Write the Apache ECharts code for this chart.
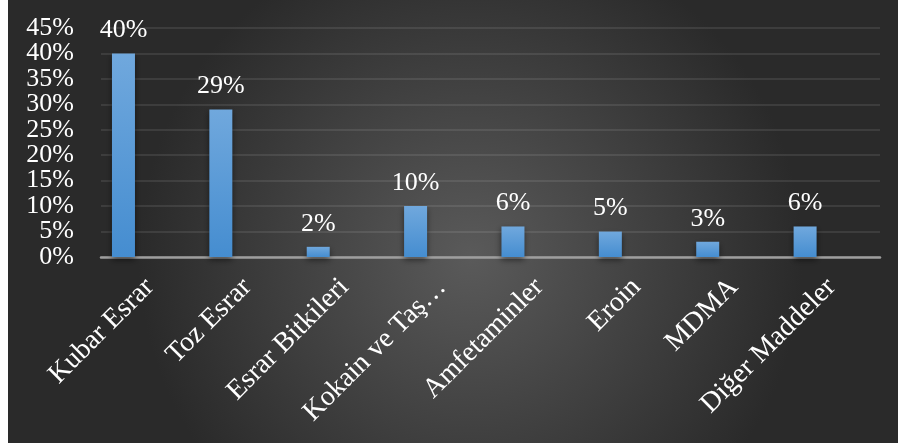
<!DOCTYPE html>
<html>
<head>
<meta charset="utf-8">
<script src="https://cdn.jsdelivr.net/npm/echarts@6/dist/echarts.min.js"></script>
<style>
html,body{margin:0;padding:0;background:#ffffff;}
#chart{position:absolute;left:8px;top:0;width:890px;height:443px;}
</style>
</head>
<body>
<div id="chart"></div>
<script>
var categories = ['Kubar Esrar','Toz Esrar','Esrar Bitkileri','Kokain ve Taş…','Amfetaminler','Eroin','MDMA','Diğer Maddeler'];
var values = [40, 29, 2, 10, 6, 5, 3, 6];
var yTicks = [0, 5, 10, 15, 20, 25, 30, 35, 40, 45];

var chart = echarts.init(document.getElementById('chart'));
var font = '"Liberation Serif","Times New Roman",serif';
var yMin = yTicks[0], yMax = yTicks[yTicks.length - 1], yStep = yTicks[1] - yTicks[0];
var gridTop = 28, gridBottom = 186, chartH = 443;
var plotH = chartH - gridTop - gridBottom;
// second grid starts at the first odd tick so its labels sit on the same scale
var grid2Bottom = gridBottom + plotH * (yTicks[1] - yMin) / (yMax - yMin);

var labelStyle = {color: '#ffffff', fontFamily: font, fontSize: 26, margin: 27, formatter: '{value}%'};

chart.setOption({
  animation: false,
  backgroundColor: {
    type: 'radial', x: 0.52, y: 0.58, r: 0.75,
    colorStops: [{offset: 0, color: '#5a5a5a'}, {offset: 1, color: '#2a2a2a'}]
  },
  grid: [
    {left: 93, right: 18, top: gridTop, bottom: gridBottom},
    {left: 93, right: 18, top: gridTop, bottom: grid2Bottom}
  ],
  xAxis: [{
    type: 'category',
    gridIndex: 0,
    data: categories,
    axisLine: {lineStyle: {color: '#9e9e9e', width: 2.5}},
    axisTick: {show: false},
    axisLabel: {
      rotate: 45, interval: 0, margin: 26,
      color: '#ffffff', fontFamily: font, fontSize: 28
    }
  }, {
    type: 'category', gridIndex: 1, data: categories, show: false
  }],
  yAxis: [{
    type: 'value', gridIndex: 0, position: 'left', min: yMin, max: yMax, interval: yStep,
    axisLine: {show: false}, axisTick: {show: false},
    axisLabel: {show: false},
    splitLine: {lineStyle: {color: 'rgba(255,255,255,0.12)', width: 1.5}}
  }, {
    type: 'value', gridIndex: 0, position: 'left', offset: 0, min: yMin, max: yMax, interval: yStep * 2,
    axisLine: {show: false}, axisTick: {show: false}, splitLine: {show: false},
    axisLabel: Object.assign({showMaxLabel: false}, labelStyle)
  }, {
    type: 'value', gridIndex: 1, position: 'left', min: yTicks[1], max: yMax, interval: yStep * 2,
    axisLine: {show: false}, axisTick: {show: false}, splitLine: {show: false},
    axisLabel: Object.assign({}, labelStyle)
  }],
  series: [{
    type: 'bar',
    xAxisIndex: 0, yAxisIndex: 0,
    data: values,
    barWidth: 23,
    barGap: '128%',
    itemStyle: {
      color: {
        type: 'linear', x: 0, y: 0, x2: 0, y2: 1,
        colorStops: [{offset: 0, color: '#70a8dd'}, {offset: 1, color: '#458dd0'}]
      },
      shadowBlur: 6, shadowColor: 'rgba(0,0,0,0.5)', shadowOffsetY: 3
    },
    label: {
      show: true, position: 'top', distance: 10,
      color: '#ffffff', fontFamily: font, fontSize: 26,
      formatter: '{c}%'
    }
  }, {
    type: 'bar',
    xAxisIndex: 0, yAxisIndex: 0,
    data: values.map(function(){ return null; }),
    barWidth: 23
  }]
});
</script>
</body>
</html>
